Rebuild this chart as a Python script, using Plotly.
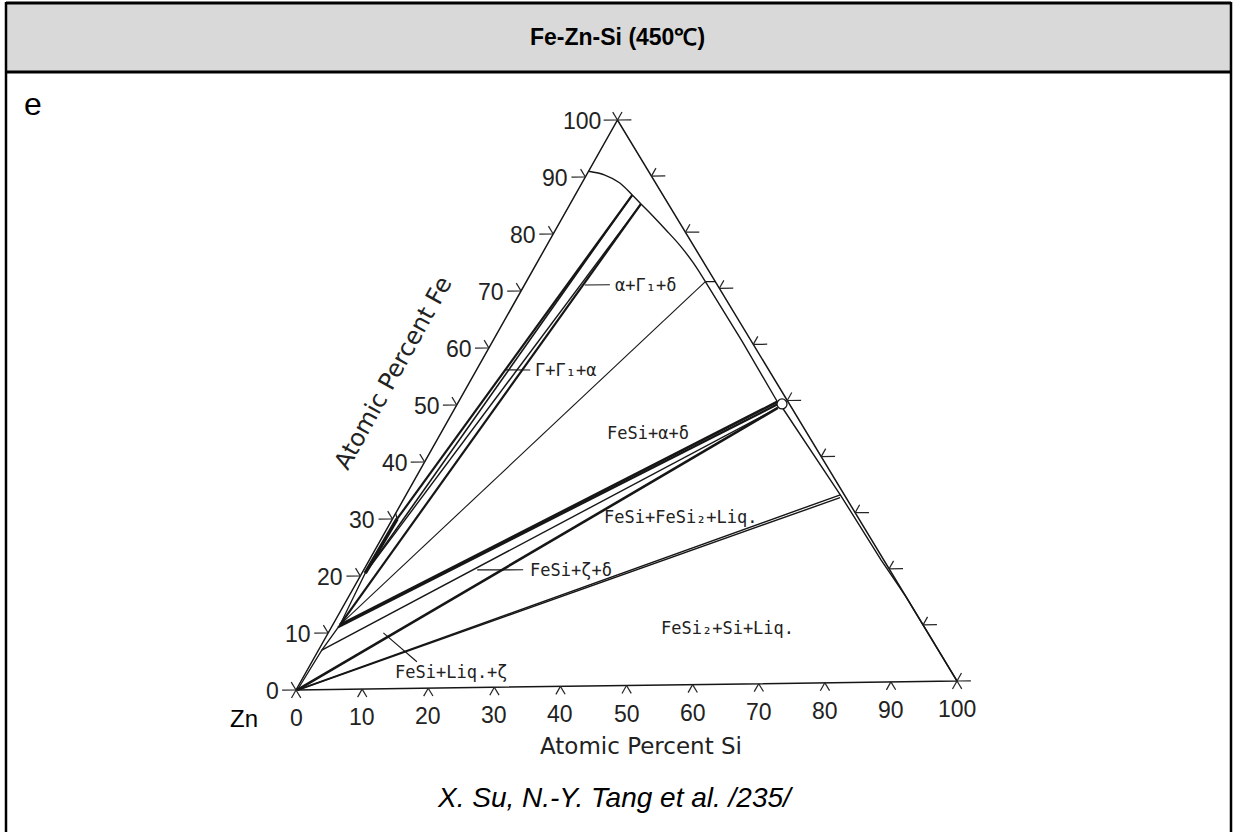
import plotly.graph_objects as go

# ---------------------------------------------------------------------------
# Fe-Zn-Si isothermal section at 450 °C.  Compositions are in at.% (Si, Fe);
# Zn is the balance.
# ---------------------------------------------------------------------------
tick_values = [0, 10, 20, 30, 40, 50, 60, 70, 80, 90, 100]
tick_labels = ["0", "10", "20", "30", "40", "50", "60", "70", "80", "90", "100"]

# alpha-Fe(Si,Zn) solid-solution boundary, Fe-Zn side -> Fe-Si side
alpha_si = [0.0, 2.8, 5.7, 8.7, 10.8, 13.7, 16.9, 20.4, 23.9, 27.3]
alpha_fe = [91.0, 90.3, 88.9, 86.7, 85.1, 82.9, 80.4, 77.6, 74.5, 71.2]

# boundary along the Fe-Si side: alpha -> FeSi, FeSi -> FeSi2 -> Si
alpha_fesi_si = [27.3, 38.0, 48.6]
alpha_fesi_fe = [71.2, 60.6, 49.8]
fesi_si_side_si = [49.6, 58.0, 66.2, 78.0, 85.0, 100.0]
fesi_si_side_fe = [49.0, 41.0, 33.2, 21.6, 15.0, 0.0]
alpha_close_si = [27.3, 28.8]
alpha_close_fe = [71.2, 71.2]

# Zn-rich corner: Liq -> zeta -> delta -> Gamma1 -> Gamma
zn_corner_si = [0.2, 0.5, 1.1, 0.5, 0.7, 0.0]
zn_corner_fe = [0.0, 7.0, 11.4, 20.5, 30.0, 31.0]
gamma_band_si = [0.5, 0.7]
gamma_band_fe = [20.5, 30.0]

# tie lines Gamma / Gamma1 / delta  ->  alpha
zn_alpha_si0 = [0.7, 0.5, 0.5, 1.1, 1.1]
zn_alpha_fe0 = [30.0, 20.5, 20.5, 11.4, 11.4]
zn_alpha_si1 = [8.7, 8.7, 10.8, 10.8, 27.3]
zn_alpha_fe1 = [86.7, 86.7, 85.1, 85.1, 71.2]

# tie lines delta / zeta / Liq  ->  FeSi
zn_fesi_si0 = [1.1, 1.0, 0.5, 0.2]
zn_fesi_fe0 = [11.4, 11.0, 7.0, 0.0]
zn_fesi_si1 = [48.6, 48.8, 49.2, 49.2]
zn_fesi_fe1 = [49.8, 49.3, 48.7, 48.7]

# tie lines Liq -> FeSi2
liq_fesi2_si0 = [0.2, 0.3]
liq_fesi2_fe0 = [0.0, 0.0]
liq_fesi2_si1 = [66.2, 66.4]
liq_fesi2_fe1 = [33.2, 32.7]

# FeSi compound
fesi_si = [49.5]
fesi_fe = [49.4]

# phase-field labels
region_text = ["α+Γ₁+δ", "Γ+Γ₁+α", "FeSi+α+δ", "FeSi+ζ+δ",
               "FeSi+FeSi₂+Liq.", "FeSi₂+Si+Liq.", "FeSi+Liq.+ζ"]
region_si = [13.5, 8.6, 31.6, 25.1, 43.8, 60.5, 13.2]
region_fe = [70.8, 56.0, 44.6, 20.7, 29.7, 9.9, 2.9]

# leader lines for the narrow phase fields
leader_si0 = [9.2, 4.3, 17.3, 8.4]
leader_fe0 = [70.9, 56.1, 20.8, 9.9]
leader_si1 = [13.0, 8.2, 24.3, 16.0]
leader_fe1 = [70.9, 56.0, 20.7, 4.7]

# ---------------------------------------------------------------------------
# ternary -> page projection (corners of the composition triangle)
# ---------------------------------------------------------------------------
W, H = 1234, 832
ZN_CORNER = (296.0, 690.0)
SI_CORNER = (957.0, 681.0)
FE_CORNER = (617.5, 120.0)


def to_xy(si, fe):
    x = ZN_CORNER[0] + si / 100 * (SI_CORNER[0] - ZN_CORNER[0]) + fe / 100 * (FE_CORNER[0] - ZN_CORNER[0])
    y = ZN_CORNER[1] + si / 100 * (SI_CORNER[1] - ZN_CORNER[1]) + fe / 100 * (FE_CORNER[1] - ZN_CORNER[1])
    return x, y


INK = "#161616"
fig = go.Figure()


def add_path(si, fe, width, shape="linear", color=INK):
    pts = [to_xy(s, f) for s, f in zip(si, fe)]
    fig.add_trace(go.Scatter(
        x=[p[0] for p in pts], y=[p[1] for p in pts], mode="lines",
        line=dict(color=color, width=width, shape=shape, smoothing=1.0),
        hoverinfo="skip", showlegend=False))


def add_segments(si0, fe0, si1, fe1, width, color=INK):
    xs, ys = [], []
    for a, b, c, d in zip(si0, fe0, si1, fe1):
        x0, y0 = to_xy(a, b)
        x1, y1 = to_xy(c, d)
        xs += [x0, x1, None]
        ys += [y0, y1, None]
    fig.add_trace(go.Scatter(x=xs, y=ys, mode="lines",
                             line=dict(color=color, width=width),
                             hoverinfo="skip", showlegend=False))


# triangle
add_path([0, 100, 0, 0], [0, 0, 100, 0], 1.5)

# ternary tick marks: each tick follows the two constant-composition directions
TL, TS = 2.1, 1.4
t_si0, t_fe0, t_si1, t_fe1 = [], [], [], []
for v in tick_values:
    # Fe scale on the Zn-Fe side
    t_si0 += [0, 0]; t_fe0 += [v, v]
    t_si1 += [-TL, -TS]; t_fe1 += [v, v + TS]
    # Si scale on the Zn-Si side
    t_si0 += [v, v]; t_fe0 += [0, 0]
    t_si1 += [v, v + TS]; t_fe1 += [-TS, -TS]
    # Fe-Si side
    t_si0 += [100 - v, 100 - v]; t_fe0 += [v, v]
    t_si1 += [100 - v + TL, 100 - v]; t_fe1 += [v, v + TS]
add_segments(t_si0, t_fe0, t_si1, t_fe1, 1.25, color="#262626")

# phase boundaries
add_path(alpha_si, alpha_fe, 1.4, shape="spline")
add_path(alpha_fesi_si, alpha_fesi_fe, 1.4)
add_path(fesi_si_side_si, fesi_si_side_fe, 1.4)
add_path(alpha_close_si, alpha_close_fe, 1.3)
add_path(zn_corner_si, zn_corner_fe, 1.3)
add_path(gamma_band_si, gamma_band_fe, 3.6)

# tie lines
zn_alpha_w = [2.2, 1.6, 1.4, 2.2, 1.1]
for i, w in enumerate(zn_alpha_w):
    add_segments(zn_alpha_si0[i:i + 1], zn_alpha_fe0[i:i + 1],
                 zn_alpha_si1[i:i + 1], zn_alpha_fe1[i:i + 1], w)
zn_fesi_w = [2.6, 2.2, 1.4, 2.6]
for i, w in enumerate(zn_fesi_w):
    add_segments(zn_fesi_si0[i:i + 1], zn_fesi_fe0[i:i + 1],
                 zn_fesi_si1[i:i + 1], zn_fesi_fe1[i:i + 1], w)
add_segments(liq_fesi2_si0, liq_fesi2_fe0, liq_fesi2_si1, liq_fesi2_fe1, 1.4)
add_segments(leader_si0, leader_fe0, leader_si1, leader_fe1, 1.1)

# FeSi compound
fx, fy = to_xy(fesi_si[0], fesi_fe[0])
fig.add_trace(go.Scatter(x=[fx], y=[fy], mode="markers",
                         marker=dict(symbol="circle", size=10, color="white",
                                     line=dict(color=INK, width=1.3)),
                         hoverinfo="skip", showlegend=False))

annotations = []
NUM_FONT = dict(family="Liberation Sans, Arial, sans-serif", size=23, color="#222222")
for v, lab in zip(tick_values, tick_labels):
    x, y = to_xy(0, v)
    annotations.append(dict(x=x, y=y, text=lab, showarrow=False, xanchor="right",
                            yanchor="middle", xshift=-15, yshift=-1, font=NUM_FONT))
    x, y = to_xy(v, 0)
    annotations.append(dict(x=x, y=y, text=lab, showarrow=False, xanchor="center",
                            yanchor="middle", yshift=-28, font=NUM_FONT))

LAB_FONT = dict(family="DejaVu Sans Mono, monospace", size=17, color="#222222")
region_anchor = ["left", "left", "center", "left", "center", "center", "left"]
for t, s, f, a in zip(region_text, region_si, region_fe, region_anchor):
    x, y = to_xy(s, f)
    annotations.append(dict(x=x, y=y, text=t, showarrow=False, xanchor=a,
                            yanchor="middle", font=LAB_FONT))

AX_FONT = dict(family="DejaVu Sans, sans-serif", size=23, color="#222222")
annotations.append(dict(x=641, y=746, text="Atomic Percent Si", showarrow=False,
                        xanchor="center", yanchor="middle", font=AX_FONT))
annotations.append(dict(x=393, y=373, text="Atomic Percent Fe", showarrow=False,
                        xanchor="center", yanchor="middle", textangle=-61,
                        font=dict(AX_FONT, size=24)))

PAGE = "Liberation Sans, Arial, sans-serif"
annotations.append(dict(x=617, y=37, text="Fe-Zn-Si (450℃)", showarrow=False,
                        xanchor="center", yanchor="middle",
                        font=dict(family=PAGE, size=23, color="black", weight="bold")))
annotations.append(dict(x=22, y=104, text="e", showarrow=False, xanchor="left",
                        yanchor="middle", font=dict(family=PAGE, size=32, color="black")))
annotations.append(dict(x=244, y=718, text="Zn", showarrow=False, xanchor="center",
                        yanchor="middle", font=dict(family=PAGE, size=24, color="black")))
annotations.append(dict(x=615, y=797, text="X. Su, N.-Y. Tang et al. /235/", showarrow=False,
                        xanchor="center", yanchor="middle",
                        font=dict(family=PAGE, size=28, color="black", style="italic")))

shapes = [
    dict(type="rect", x0=6, x1=1231, y0=3, y1=72, fillcolor="#d9d9d9",
         line=dict(width=0), layer="below"),
    dict(type="line", x0=6, x1=1231, y0=3, y1=3, line=dict(color="black", width=3)),
    dict(type="line", x0=6, x1=1231, y0=72, y1=72, line=dict(color="black", width=3)),
    dict(type="line", x0=6, x1=6, y0=2, y1=H, line=dict(color="black", width=2.5)),
    dict(type="line", x0=1231, x1=1231, y0=2, y1=H, line=dict(color="black", width=2.5)),
]

fig.update_layout(
    width=W, height=H, autosize=False,
    margin=dict(l=0, r=0, t=0, b=0),
    paper_bgcolor="white", plot_bgcolor="white",
    xaxis=dict(range=[0, W], visible=False, fixedrange=True),
    yaxis=dict(range=[H, 0], visible=False, fixedrange=True),
    showlegend=False,
    annotations=annotations,
    shapes=shapes,
)

fig.write_html("out.html", config={"displayModeBar": False})
